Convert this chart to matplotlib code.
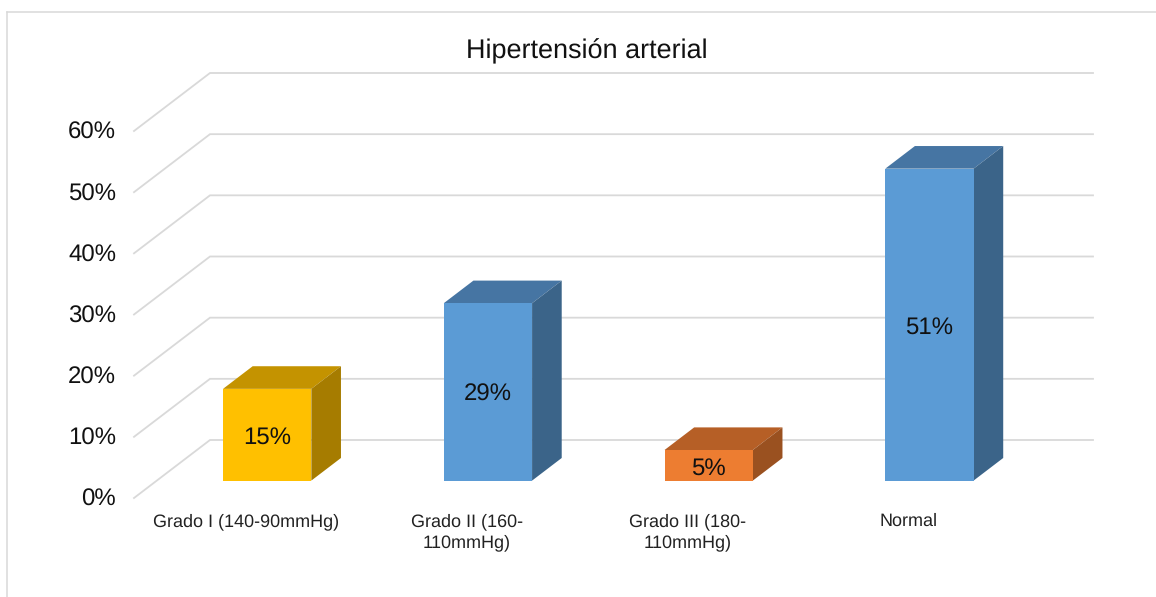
"""Hypertension grades as an oblique 3D column chart."""

import matplotlib

matplotlib.use("Agg")
import matplotlib.pyplot as plt
from matplotlib.lines import Line2D

CATEGORIES = [
    "Grado I (140-90mmHg)",
    "Grado II (160-\n110mmHg)",
    "Grado III (180-\n110mmHg)",
    "Normal",
]
VALUES = [15, 29, 5, 51]
TICKS = [0, 10, 20, 30, 40, 50, 60]
TITLE = "Hipertensión arterial"

# front, top, side shades of each column
FACE_COLORS = ["#FFC000", "#5B9BD5", "#ED7D31", "#5B9BD5"]
TOP_COLORS = ["#C49300", "#4675A3", "#B65F26", "#4675A3"]
SIDE_COLORS = ["#A67C00", "#3B6489", "#9A5120", "#3B6489"]
GRID = "#D9D9D9"

W, H = 1156, 597
WALL_LEFT, WALL_RIGHT, WALL_BOTTOM, WALL_TOP = 210, 1093, 440, 73

# shift of the floor front edge from the back wall, in pixels
DEPTH_DX, DEPTH_DY = 76, 58
BAR_WIDTH = 0.40
BAR_FRONT, BAR_BACK = 0.70, 0.31

plt.rcParams["font.family"] = ["Liberation Sans", "DejaVu Sans"]
plt.rcParams["text.hinting"] = "no_hinting"
plt.rcParams["text.hinting_factor"] = 1

fig = plt.figure(figsize=(W / 100, H / 100), dpi=100)
ax = fig.add_axes([
    WALL_LEFT / W, 1 - WALL_BOTTOM / H,
    (WALL_RIGHT - WALL_LEFT) / W, (WALL_BOTTOM - WALL_TOP) / H,
])
ax.set_xlim(0, len(CATEGORIES))
ax.set_ylim(0, TICKS[-1])
ax.axis("off")

x_per_px = len(CATEGORIES) / (WALL_RIGHT - WALL_LEFT)
y_per_px = TICKS[-1] / (WALL_BOTTOM - WALL_TOP)


def project(x, y, depth):
    # depth 0 is the back wall, depth 1 the front edge of the floor
    return x - depth * DEPTH_DX * x_per_px, y - depth * DEPTH_DY * y_per_px


def quad(points, color, zorder):
    xs, ys = zip(*[project(*p) for p in points])
    ax.fill(xs, ys, color=color, lw=0, clip_on=False, zorder=zorder)


for tick in TICKS:
    x0, y0 = project(0, tick, 1)
    ax.plot([x0, 0, len(CATEGORIES)], [y0, tick, tick], color=GRID, lw=1.3,
            clip_on=False, zorder=1, solid_joinstyle="miter")
    ax.annotate(f"{tick}%", (x0, y0), xytext=(-18, -2), textcoords="offset pixels",
                ha="right", va="center", fontsize=17.2, color="#111111",
                annotation_clip=False)

for i, (name, value) in enumerate(zip(CATEGORIES, VALUES)):
    left = i + 0.5 - BAR_WIDTH / 2
    right = i + 0.5 + BAR_WIDTH / 2
    quad([(left, value, BAR_FRONT), (right, value, BAR_FRONT),
          (right, value, BAR_BACK), (left, value, BAR_BACK)], TOP_COLORS[i], 3)
    quad([(right, 0, BAR_FRONT), (right, 0, BAR_BACK),
          (right, value, BAR_BACK), (right, value, BAR_FRONT)], SIDE_COLORS[i], 3)
    quad([(left, 0, BAR_FRONT), (right, 0, BAR_FRONT),
          (right, value, BAR_FRONT), (left, value, BAR_FRONT)], FACE_COLORS[i], 4)

    lx, ly = project(i + 0.5, value / 2, BAR_FRONT)
    ax.annotate(f"{value}%", (lx, ly), xytext=(0, -3), textcoords="offset pixels",
                ha="center", va="center", fontsize=17.2, color="#111111", zorder=5,
                annotation_clip=False)

    cx, cy = project(i + 0.5, 0, 1)
    ax.annotate(name, (cx, cy), xytext=(2, -15), textcoords="offset pixels",
                ha="center", va="top", fontsize=13.32, color="#222222",
                linespacing=1.35, annotation_clip=False)

fig.text(587 / W, 1 - 51 / H, TITLE, ha="center", va="center", fontsize=19.15,
         color="#111111")

# chart frame, open at the right and bottom
fig.add_artist(Line2D([6.5 / W, 1], [1 - 12 / H, 1 - 12 / H], color=GRID, lw=1.1))
fig.add_artist(Line2D([6.5 / W, 6.5 / W], [1 - 12 / H, 0], color=GRID, lw=1.1))

fig.savefig("out.png", dpi=100)
